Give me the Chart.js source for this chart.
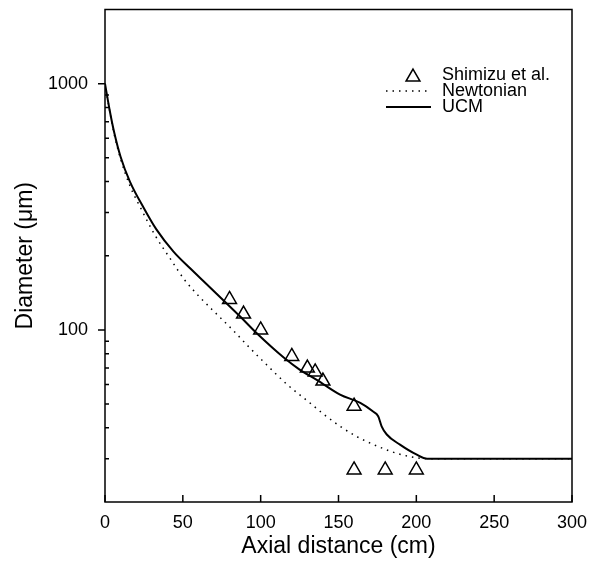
<!DOCTYPE html>
<html>
<head>
<meta charset="utf-8">
<script src="https://cdn.jsdelivr.net/npm/chart.js@4/dist/chart.umd.min.js"></script>
<style>
html, body { margin: 0; padding: 0; background: #fff; }
canvas { display: block; }
</style>
</head>
<body>
<canvas id="c" width="598" height="564"></canvas>
<script>
// ---- data ----
const shimizuX = [80, 89, 100, 120, 130, 135, 140, 160, 160, 180, 200];
const shimizuY = [133, 116, 100, 78, 70, 67.5, 62, 49, 27, 27, 27];

const newtonX = [0, 3, 6, 10, 16, 24, 32, 43, 51, 61, 72, 82, 93, 104, 117, 130, 140, 151, 162, 175, 190, 207, 300];
const newtonY = [1000, 775, 620, 495, 385, 303, 243, 190, 160, 135.6, 115.5, 100, 84.5, 72, 60, 51.5, 45.7, 40.6, 36.8, 33.7, 31.2, 30, 30];

const ucmX = [0, 3, 6, 10, 16, 25, 33, 44, 55, 65, 76, 87, 97, 115, 125, 136, 151, 164, 172, 175.5, 177.7, 181, 189.5, 200, 207, 300];
const ucmY = [1000, 780, 630, 505, 400, 312, 256, 208, 177, 154, 132, 113, 97.5, 77, 69, 62.7, 54.6, 50.5, 46.7, 44.6, 40.6, 37.6, 34.2, 31.2, 30, 30];

const xTickValues = [0, 50, 100, 150, 200, 250, 300];
const yTickLabels = [100, 1000];
const yMinorTicks = [30, 40, 50, 60, 70, 80, 90, 200, 300, 400, 500, 600, 700, 800, 900];
const seriesNames = ['Shimizu et al.', 'Newtonian', 'UCM'];

const FONT = "'Liberation Sans', Arial, Helvetica, sans-serif";
Chart.defaults.font.family = FONT;
Chart.defaults.color = '#000';

const pts = (xs, ys) => xs.map((x, i) => ({ x: x, y: ys[i] }));

function triangle(ctx, x, y, r) {
  let rad = 0;
  ctx.beginPath();
  ctx.moveTo(x + Math.sin(rad) * r, y - Math.cos(rad) * r);
  rad += 2 * Math.PI / 3;
  ctx.lineTo(x + Math.sin(rad) * r, y - Math.cos(rad) * r);
  rad += 2 * Math.PI / 3;
  ctx.lineTo(x + Math.sin(rad) * r, y - Math.cos(rad) * r);
  ctx.closePath();
  ctx.stroke();
}

const framePlugin = {
  id: 'frame',
  afterDraw(chart) {
    const { ctx, chartArea: a, scales } = chart;
    const xs = scales.x, ys = scales.y;
    ctx.save();
    ctx.strokeStyle = '#000';
    ctx.lineWidth = 1.5;
    ctx.strokeRect(a.left, a.top, a.right - a.left, a.bottom - a.top);
    ctx.beginPath();
    yTickLabels.forEach(v => {
      const py = ys.getPixelForValue(v);
      ctx.moveTo(a.left - 7, py); ctx.lineTo(a.left, py);
    });
    yMinorTicks.forEach(v => {
      const py = ys.getPixelForValue(v);
      ctx.moveTo(a.left, py); ctx.lineTo(a.left + 4, py);
    });
    xTickValues.forEach(v => {
      const px = xs.getPixelForValue(v);
      ctx.moveTo(px, a.bottom); ctx.lineTo(px, a.bottom - 7);
    });
    ctx.stroke();

    // legend
    const lx0 = 386, lx1 = 431, tx = 442;
    const rows = [75, 91, 107];
    ctx.lineWidth = 1.5;
    triangle(ctx, 413, rows[0] + 2, 8);
    ctx.setLineDash([1.5, 5]);
    ctx.beginPath(); ctx.moveTo(lx0, rows[1]); ctx.lineTo(lx1, rows[1]); ctx.stroke();
    ctx.setLineDash([]);
    ctx.lineWidth = 2;
    ctx.beginPath(); ctx.moveTo(lx0, rows[2]); ctx.lineTo(lx1, rows[2]); ctx.stroke();
    ctx.fillStyle = '#000';
    ctx.font = '18px ' + FONT;
    ctx.textBaseline = 'middle';
    ctx.textAlign = 'left';
    seriesNames.forEach((n, i) => ctx.fillText(n, tx, rows[i]));
    ctx.restore();
  }
};

new Chart(document.getElementById('c'), {
  type: 'scatter',
  data: {
    datasets: [
      {
        label: seriesNames[0],
        data: pts(shimizuX, shimizuY),
        pointStyle: 'triangle',
        pointRadius: 8,
        pointBorderWidth: 1.5,
        borderColor: '#000',
        backgroundColor: 'rgba(255,255,255,0)',
        showLine: false
      },
      {
        label: seriesNames[1],
        data: pts(newtonX, newtonY),
        showLine: true,
        borderColor: '#000',
        borderWidth: 1.5,
        borderDash: [1.5, 5],
        pointRadius: 0,
        cubicInterpolationMode: 'monotone',
        fill: false
      },
      {
        label: seriesNames[2],
        data: pts(ucmX, ucmY),
        showLine: true,
        borderColor: '#000',
        borderWidth: 2,
        pointRadius: 0,
        cubicInterpolationMode: 'monotone',
        fill: false
      }
    ]
  },
  options: {
    responsive: false,
    animation: false,
    events: [],
    layout: { padding: { left: 0, right: 26, top: 8, bottom: 0 } },
    plugins: { legend: { display: false }, tooltip: { enabled: false } },
    scales: {
      x: {
        type: 'linear', min: 0, max: 300,
        afterBuildTicks: s => { s.ticks = xTickValues.map(v => ({ value: v })); },
        ticks: { color: '#000', font: { size: 18 }, padding: 10, maxRotation: 0 },
        grid: { display: false, drawTicks: false },
        border: { display: false },
        title: { display: true, text: 'Axial distance (cm)', color: '#000', font: { size: 23 }, padding: { top: 0, bottom: 4 } },
        afterFit: s => { s.height = 62; s.paddingLeft = 0; s.paddingRight = 0; }
      },
      y: {
        type: 'logarithmic', min: 20, max: 2000,
        afterBuildTicks: s => { s.ticks = yTickLabels.map(v => ({ value: v })); },
        ticks: { color: '#000', font: { size: 18 }, padding: 17, callback: v => String(v) },
        grid: { display: false, drawTicks: false },
        border: { display: false },
        title: { display: true, text: 'Diameter (\u03bcm)', color: '#000', font: { size: 23 }, padding: { top: 12, bottom: 0 } },
        afterFit: s => { s.width = 105; s.paddingTop = 0; s.paddingBottom = 0; }
      }
    }
  },
  plugins: [framePlugin]
});
</script>
</body>
</html>
